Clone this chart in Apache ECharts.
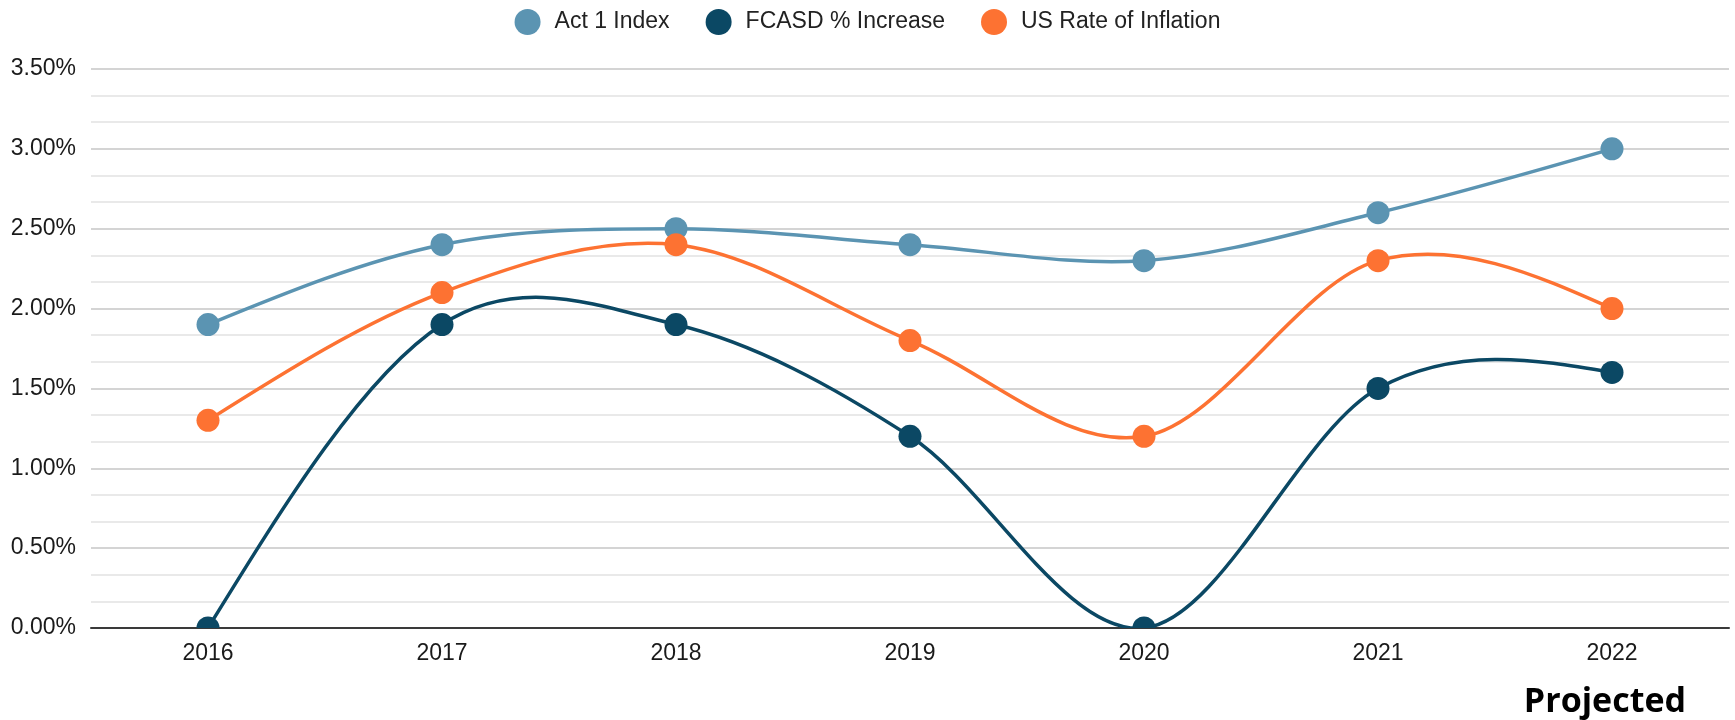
<!DOCTYPE html>
<html>
<head>
<meta charset="utf-8">
<script src="https://cdn.jsdelivr.net/npm/echarts@6/dist/echarts.min.js"></script>
<style>
  html, body { margin: 0; padding: 0; background: #fff; }
  #chart { width: 1735px; height: 720px; }
</style>
</head>
<body>
<div id="chart"></div>
<script>
  // years on the x axis
  var years = ['2016', '2017', '2018', '2019', '2020', '2021', '2022']
  // values in percent
  var act1Index = [1.9, 2.4, 2.5, 2.4, 2.3, 2.6, 3.0]
  var fcasdIncrease = [0, 1.9, 1.9, 1.2, 0, 1.5, 1.6]
  var usInflation = [1.3, 2.1, 2.4, 1.8, 1.2, 2.3, 2.0]
  var seriesNames = ['Act 1 Index', 'FCASD % Increase', 'US Rate of Inflation']
  var colors = ['#5b94b2', '#0b4864', '#fd7232']

  var myChart = echarts.init(document.getElementById('chart'))

  // catmull-rom tangents inside, natural end condition at both ends
  function curveSlopes(y) {
    var n = y.length
    var m = []
    for (var i = 1; i < n - 1; i++) {
      m[i] = (y[i + 1] - y[i - 1]) / 2
    }
    m[0] = (3 * (y[1] - y[0]) - m[1]) / 2
    m[n - 1] = (3 * (y[n - 1] - y[n - 2]) - m[n - 2]) / 2
    return m
  }

  function curveSeries(name, values, color) {
    var slopes = curveSlopes(values)
    return {
      name: name,
      type: 'custom',
      clip: true,
      itemStyle: {color: color},
      data: years.map(function (yr, i) {
        return [yr, values[i]]
      }),
      renderItem: function (params, api) {
        var i = params.dataIndex
        var p0 = api.coord([i, values[i]])
        var children = []
        if (i < values.length - 1) {
          var p1 = api.coord([i + 1, values[i + 1]])
          var dx = (p1[0] - p0[0]) / 3
          children.push({
            type: 'bezierCurve',
            shape: {
              x1: p0[0], y1: p0[1],
              x2: p1[0], y2: p1[1],
              cpx1: p0[0] + dx,
              cpy1: api.coord([i, values[i] + slopes[i] / 3])[1],
              cpx2: p1[0] - dx,
              cpy2: api.coord([i + 1, values[i + 1] - slopes[i + 1] / 3])[1]
            },
            style: {stroke: color, lineWidth: 3.5, fill: null}
          })
        }
        children.push({
          type: 'circle',
          shape: {cx: p0[0], cy: p0[1], r: 11.5},
          style: {fill: color}
        })
        return {type: 'group', children: children}
      }
    }
  }

  var option = {
    animation: false,
    color: colors,
    textStyle: {fontFamily: 'Liberation Sans, Arial, sans-serif'},
    legend: {
      top: 4,
      left: 'center',
      icon: 'circle',
      itemWidth: 26,
      itemHeight: 26,
      itemGap: 36,
      data: seriesNames,
      textStyle: {
        fontSize: 23,
        color: '#222',
        padding: [0, 0, 0, 9]
      }
    },
    grid: {
      left: 91,
      right: 6,
      top: 69,
      bottom: 92
    },
    xAxis: {
      type: 'category',
      data: years,
      boundaryGap: true,
      axisTick: {show: false},
      axisLine: {lineStyle: {color: '#3a3a3a', width: 2}},
      axisLabel: {
        color: '#1a1a1a',
        fontSize: 23,
        margin: 14
      }
    },
    yAxis: {
      type: 'value',
      min: 0,
      max: 3.5,
      interval: 0.5,
      axisLine: {show: false},
      axisTick: {show: false},
      axisLabel: {
        color: '#1a1a1a',
        fontSize: 23,
        margin: 15,
        formatter: function (v) {
          return v.toFixed(2) + '%'
        }
      },
      splitLine: {lineStyle: {color: '#c6c6c6', width: 1.5}},
      minorTick: {show: false, splitNumber: 3},
      minorSplitLine: {show: true, lineStyle: {color: '#e2e2e2', width: 1.5}}
    },
    series: [
      curveSeries(seriesNames[0], act1Index, colors[0]),
      curveSeries(seriesNames[1], fcasdIncrease, colors[1]),
      curveSeries(seriesNames[2], usInflation, colors[2])
    ],
    graphic: [{
      type: 'text',
      right: 1735 - 1686,
      top: 685,
      style: {
        text: 'Projected',
        fontFamily: 'Open Sans',
        fontWeight: 'bold',
        fontSize: 34,
        fill: '#000'
      }
    }]
  }
  myChart.setOption(option)
</script>
</body>
</html>
